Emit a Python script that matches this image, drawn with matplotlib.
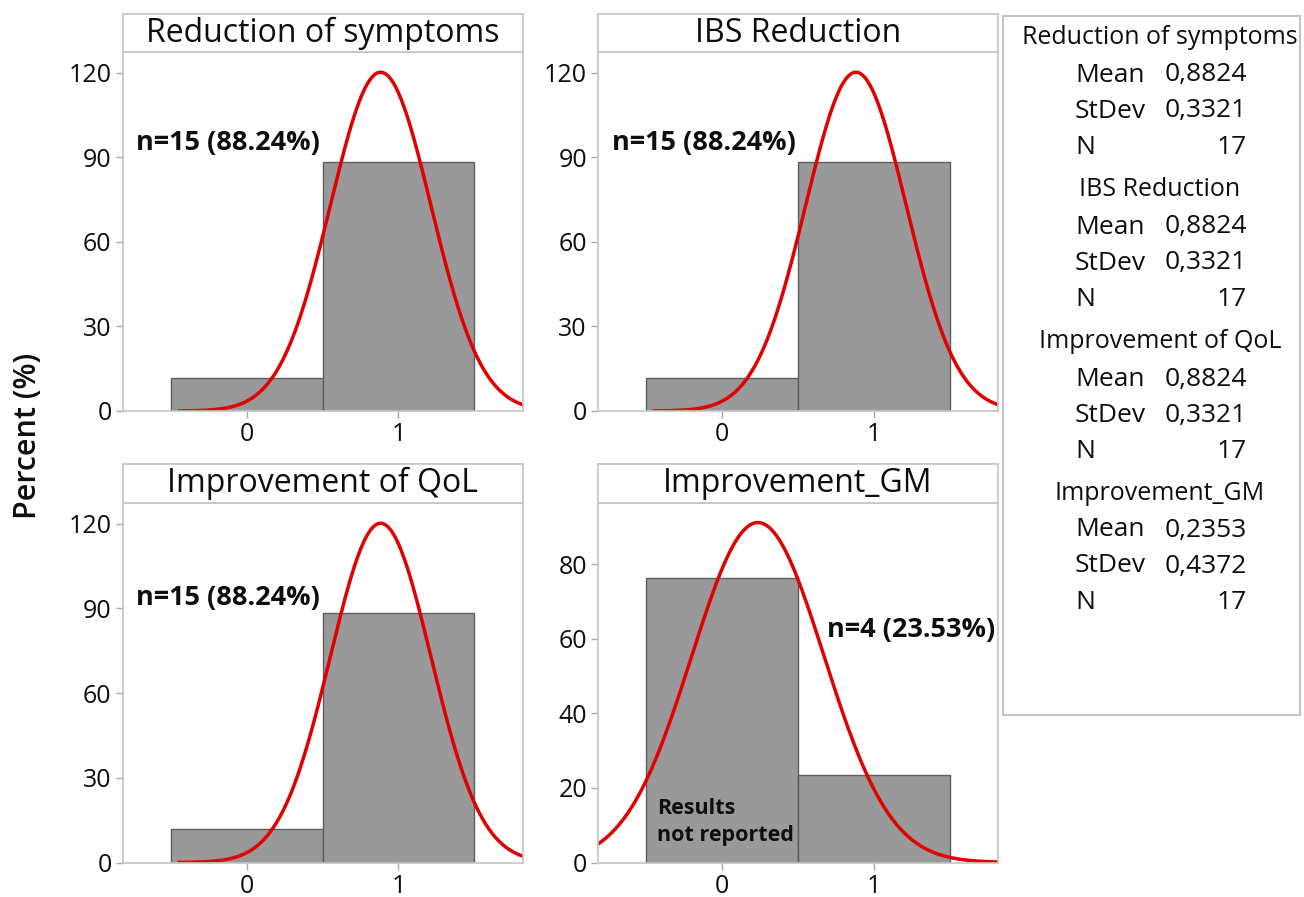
import numpy as np
import matplotlib
matplotlib.use('Agg')
from matplotlib import pyplot as plt

plt.rcParams['font.family'] = ['Open Sans', 'DejaVu Sans']

# data
titles = ['Reduction of symptoms', 'IBS Reduction', 'Improvement of QoL', 'Improvement_GM']
pct_0 = [11.76, 11.76, 11.76, 76.47]
pct_1 = [88.24, 88.24, 88.24, 23.53]
means = [0.8824, 0.8824, 0.8824, 0.2353]
stdevs = [0.3321, 0.3321, 0.3321, 0.4372]
n_obs = [17, 17, 17, 17]
notes = ['n=15 (88.24%)', 'n=15 (88.24%)', 'n=15 (88.24%)', 'n=4 (23.53%)']
mean_txt = ['0,8824', '0,8824', '0,8824', '0,2353']
sd_txt = ['0,3321', '0,3321', '0,3321', '0,4372']

W, H = 1304, 897


def px_box(x0, y0, x1, y1):
    # pixel box (top-left origin) -> figure fraction rect
    return [x0 / W, 1 - y1 / H, (x1 - x0) / W, (y1 - y0) / H]


fig = plt.figure(figsize=(W / 100, H / 100), dpi=100)

cols = [(122.7, 522.7), (598, 998)]
rows = [((14, 52), (52, 411)), ((464, 503), (503, 862.5))]
ytops = [127.3, 127.3, 127.3, 96.5]
yticks = [[0, 30, 60, 90, 120]] * 3 + [[0, 20, 40, 60, 80]]
note_pos = [(-0.73, 95), (-0.73, 95), (-0.73, 93.5), (0.69, 62.3)]

frame = '#c4c4c4'
ink = '#0e0e0e'

for i in range(4):
    cx = cols[i % 2]
    (ty0, ty1), (ay0, ay1) = rows[i // 2]

    ax = fig.add_axes(px_box(cx[0], ay0, cx[1], ay1))
    ax.bar([0, 1], [pct_0[i], pct_1[i]], width=1.0, color='#999999',
           edgecolor='#5e5e5e', linewidth=1.0, zorder=1)
    xs = np.linspace(means[i] - 4 * stdevs[i], means[i] + 4 * stdevs[i], 400)
    ys = 100 * np.exp(-0.5 * ((xs - means[i]) / stdevs[i]) ** 2) / (stdevs[i] * np.sqrt(2 * np.pi))
    ax.plot(xs, ys, color='#e00000', linewidth=2.5, zorder=2)
    ax.set_xlim(-0.82, 1.82)
    ax.set_ylim(0, ytops[i])
    ax.set_xticks([0, 1])
    ax.set_yticks(yticks[i])
    for s in ax.spines.values():
        s.set_color(frame)
        s.set_linewidth(1.2)
    ax.tick_params(axis='both', colors='#a8a8a8', length=5, width=1,
                   labelsize=18, labelcolor=ink)
    ax.tick_params(axis='x', pad=3)
    ax.tick_params(axis='y', pad=3)

    nx, ny = note_pos[i]
    ax.text(nx, ny, notes[i], fontsize=19.5, fontweight='bold', color=ink,
            ha='left', va='center', zorder=3)
    if i == 3:
        ax.text(-0.43, 10.8, 'Results\nnot reported', fontsize=15.5, fontweight='bold',
                color=ink, ha='left', va='center', linespacing=1.4, zorder=3)

    tax = fig.add_axes(px_box(cx[0], ty0, cx[1], ty1))
    tax.set_xticks([])
    tax.set_yticks([])
    for s in tax.spines.values():
        s.set_color(frame)
        s.set_linewidth(1.2)
    tax.text(0.5, 0.5, titles[i], fontsize=23, color=ink,
             ha='center', va='center', transform=tax.transAxes)

fig.text(28 / W, 1 - 436 / H, 'Percent (%)', rotation=90, ha='center', va='center',
         fontsize=22, fontweight='semibold', color=ink)

# stats legend box
lax = fig.add_axes(px_box(1003, 16, 1300, 715))
lax.set_xticks([])
lax.set_yticks([])
for s in lax.spines.values():
    s.set_color(frame)
    s.set_linewidth(1.5)

head_y = [38, 190, 342, 493]
for i in range(4):
    y0 = head_y[i]
    fig.text(1160 / W, 1 - y0 / H, titles[i], fontsize=18, color=ink,
             ha='center', va='center')
    labels = ['Mean', 'StDev', 'N']
    vals = [mean_txt[i], sd_txt[i], str(n_obs[i])]
    for k in range(3):
        yy = y0 + 37 + 36 * k
        fig.text(1075 / W, 1 - yy / H, labels[k], fontsize=19, color=ink,
                 ha='left', va='center')
        fig.text(1247 / W, 1 - yy / H, vals[k], fontsize=19, color=ink,
                 ha='right', va='center')

plt.savefig('out.png', dpi=100)
